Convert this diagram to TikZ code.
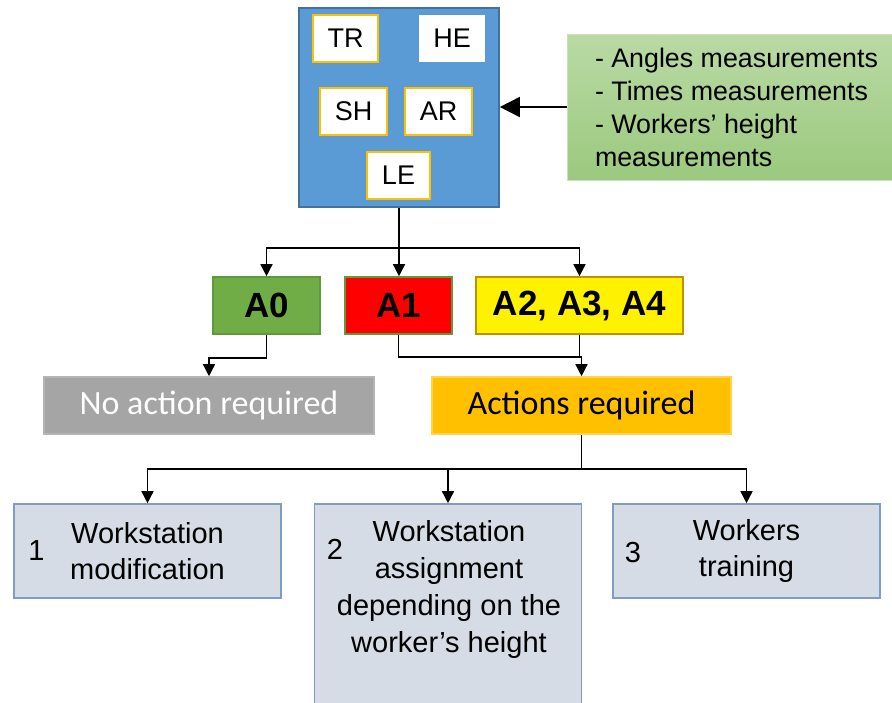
\documentclass[tikz,border=0pt]{standalone}
\usepackage{fontspec}
\setmainfont{Liberation Sans}
\newfontfamily\calfont{Carlito}
\usepackage{tikz}
\usetikzlibrary{positioning,arrows.meta}
\definecolor{boxblue}{HTML}{5B9BD5}
\definecolor{blueedge}{HTML}{41719C}
\definecolor{zonegold}{HTML}{FFC000}
\definecolor{meastop}{HTML}{B9DAA4}
\definecolor{measbot}{HTML}{9BC97E}
\definecolor{measedge}{HTML}{C9E2B8}
\definecolor{okgreen}{HTML}{70AD47}
\definecolor{okedge}{HTML}{5E9A3A}
\definecolor{warnedge}{HTML}{BF9000}
\definecolor{noactfill}{HTML}{A5A5A5}
\definecolor{noactedge}{HTML}{B4B4B4}
\definecolor{actedge}{HTML}{FFD34D}
\definecolor{fixfill}{HTML}{D6DCE5}
\definecolor{fixedge}{HTML}{7F9CC6}

\begin{document}
\begin{tikzpicture}[x=0.5pt,y=-0.5pt,
  zone/.style={draw=zonegold, fill=white, line width=0.8pt, minimum width=32.5pt, minimum height=23.5pt, inner sep=0pt, font=\fontsize{13.5}{16}\selectfont},
  grade/.style={minimum height=28.5pt, inner sep=0pt, line width=0.8pt, font=\fontsize{17.5}{20}\selectfont\bfseries},
  outcome/.style={minimum height=28.5pt, inner sep=0pt, line width=0.8pt, font=\calfont\fontsize{17}{20}\selectfont},
  fix/.style={draw=fixedge, fill=fixfill, line width=0.8pt, minimum width=133.5pt, minimum height=47pt, inner sep=0pt, align=center, font=\fontsize{14.5}{18}\selectfont},
  numtag/.style={inner sep=0pt, font=\fontsize{14.5}{18}\selectfont},
  link/.style={line width=0.75pt, -{Triangle[length=6pt,width=6pt]}},
  wire/.style={line width=0.75pt}
]
\useasboundingbox (0,0) rectangle (892,702);

% body segments
\node[draw=blueedge, fill=boxblue, line width=0.8pt, minimum width=100pt, minimum height=99.5pt] (body) at (399,107.5) {};
\node[zone] (tr) at (345.5,38.5) {TR};
\node[zone, draw=white, minimum width=32pt, minimum height=22.5pt] (he) at (452,38.5) {HE};
\node[zone, minimum width=33.5pt] (sh) at (353.5,111.5) {SH};
\node[zone, minimum width=33.5pt] (ar) at (438.5,111.5) {AR};
\node[zone, minimum width=31.5pt] (le) at (398.5,175.5) {LE};

% measurements
\node[draw=measedge, top color=meastop, bottom color=measbot, minimum width=162.5pt, minimum height=73pt] (meas) at (729.5,107) {};
\node[anchor=west, inner sep=0pt, align=left, font=\fontsize{13.4}{16.5}\selectfont] (meastxt) at ([xshift=14pt]meas.west) {- Angles measurements\\- Times measurements\\- Workers’ height\\measurements};
\draw[line width=0.8pt, -{Triangle[length=10pt,width=10pt]}] (meas.west) -- (meas.west -| body.east);

% action levels
\node[grade, draw=okedge, fill=okgreen, minimum width=53.5pt] (a0) at (266.5,305.5) {A0};
\node[grade, draw=okedge, fill=red, minimum width=53.5pt] (a1) at (398.5,305.5) {A1};
\node[grade, draw=warnedge, fill=yellow, minimum width=103.5pt] (a234) at (579.5,305.5) {A2, A3, A4};

\node[outcome, draw=noactedge, fill=noactfill, text=white, minimum width=165pt] (noact) at (209,405.5) {No action required};
\node[outcome, draw=actedge, fill=zonegold, minimum width=149.5pt] (act) at (581.5,405.5) {Actions required};

% corrective actions
\node[fix] (fix1) at (147.5,551) {Workstation\\modification};
\node[fix, minimum height=104pt] (fix2) at (448,608) {};
\node[align=center, inner sep=0pt, font=\fontsize{14.5}{18.5}\selectfont] (txt2) at (449,589) {Workstation\\assignment\\depending on the\\worker’s height};
\node[fix] (fix3) at (746.5,551) {Workers\\training};
\node[numtag] (num1) at (36.5,551) {1};
\node[numtag] (num2) at (335,549) {2};
\node[numtag] (num3) at (633,553) {3};

% connectors
\coordinate (fork1) at (399,248);
\draw[wire] (body.south) -- (fork1);
\draw[link] (fork1) -| (a0.north);
\draw[link] (fork1) -| (a234.north);
\draw[link] (fork1) -- (fork1 |- a1.north);
\draw[link] (a0.south) -- ++(0,23) -| (noact.north);
\coordinate (join) at (581.5,357);
\draw[link] (a1.south) |- (join) -- (act.north);
\draw[wire] (a234.south) -- (a234.south |- join);
\coordinate (fork2) at (581.5,469);
\draw[wire] (act.south) -- (fork2);
\draw[link] (fork2) -| (fix1.north);
\draw[link] (fork2) -| (fix2.north);
\draw[link] (fork2) -| (fix3.north);
\end{tikzpicture}
\end{document}
